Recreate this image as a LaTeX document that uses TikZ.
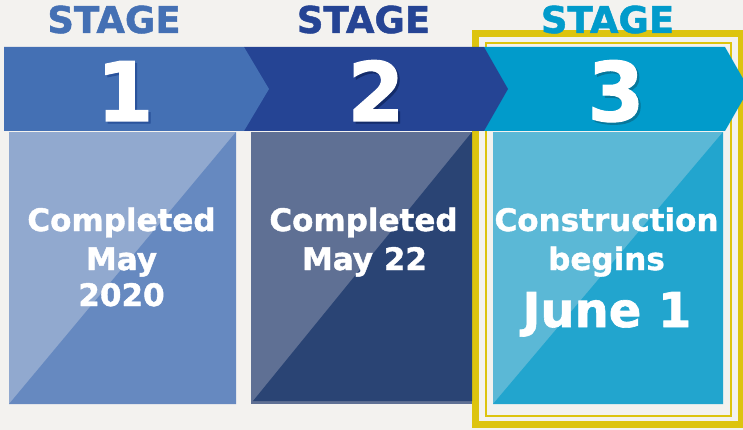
\documentclass[tikz,border=0pt]{standalone}
\usepackage{fontspec}
\setmainfont{DejaVu Sans}[BoldFont={DejaVu Sans Bold},BoldFeatures={FakeBold=1.3}]
\definecolor{bgc}{HTML}{F3F2EF}
\definecolor{aone}{HTML}{4470B4}
\definecolor{atwo}{HTML}{254494}
\definecolor{athree}{HTML}{019BCB}
\definecolor{sone}{HTML}{2A539C}
\definecolor{stwo}{HTML}{142C6A}
\definecolor{sthree}{HTML}{07789C}
\definecolor{bonel}{HTML}{91A9CF}
\definecolor{boned}{HTML}{6689C0}
\definecolor{btwol}{HTML}{5F7094}
\definecolor{btwod}{HTML}{2A4474}
\definecolor{bthreel}{HTML}{5BB8D6}
\definecolor{bthreed}{HTML}{22A5CE}
\definecolor{ylw}{HTML}{DDC40E}
\newcommand{\shadnum}[2]{\rlap{\kern2.2pt\raisebox{-2.2pt}{\textcolor{#1}{#2}}}#2}
\tikzset{
  stagetxt/.style={anchor=base, inner sep=0pt, font=\fontsize{37}{37}\selectfont\bfseries},
  numtxt/.style={anchor=base, inner sep=0pt, text=white, font=\fontsize{82}{82}\selectfont\bfseries},
  boxtxt/.style={anchor=base, inner sep=0pt, text=white, font=\fontsize{31}{31}\selectfont\bfseries},
  bigtxt/.style={anchor=base, inner sep=0pt, text=white, font=\fontsize{48}{48}\selectfont\bfseries}
}
\begin{document}
\begin{tikzpicture}[x=1pt,y=-1pt]
\useasboundingbox (0,0) rectangle (743,430);
\clip (0,0) rectangle (743,430);
\fill[bgc] (0,0) rectangle (743,430);
% yellow frame
\draw[ylw, line width=7.3pt] (475.6,33.6) rectangle (741.5,424.6);
\draw[ylw, line width=2pt] (486.3,42.7) rectangle (730.5,416.2);
% boxes
\fill[bonel] (9,132) rectangle (236,404);
\fill[boned] (9,404) -- (236,132) -- (236,404) -- cycle;
\fill[btwol] (251,132) rectangle (472,404);
\fill[btwod] (253,401) -- (472,132) -- (472,401) -- cycle;
\fill[bthreel] (493,132) rectangle (723,404);
\fill[bthreed] (493,404) -- (723,132) -- (723,404) -- cycle;
% arrows
\fill[athree] (484,47) -- (725,47) -- (749,89) -- (725,131) -- (484,131) -- cycle;
\fill[atwo] (244,47) -- (484,47) -- (508,89) -- (484,131) -- (244,131) -- cycle;
\fill[aone] (4,47) -- (244,47) -- (269,89) -- (244,131) -- (4,131) -- cycle;
% stage labels
\node[stagetxt, text=aone] (s1) at (114,33) {STAGE};
\node[stagetxt, text=atwo] (s2) at (363.5,33) {STAGE};
\node[stagetxt, text=athree] (s3) at (607.5,33) {STAGE};
% numbers
\node[numtxt] (n1) at (125,121) {\shadnum{sone}{1}};
\node[numtxt] (n2) at (376,121) {\shadnum{stwo}{2}};
\node[numtxt] (n3) at (616,121) {\shadnum{sthree}{3}};
% box texts
\node[boxtxt] (t1a) at (121.5,231) {Completed};
\node[boxtxt] (t1b) at (121.5,270) {May};
\node[boxtxt] (t1c) at (121.5,306) {2020};
\node[boxtxt] (t2a) at (363.5,231) {Completed};
\node[boxtxt] (t2b) at (364.5,270) {May 22};
\node[boxtxt] (t3a) at (606.5,231) {Construction};
\node[boxtxt] (t3b) at (606.5,270) {begins};
\node[bigtxt] (t3c) at (607,327) {June 1};
\end{tikzpicture}
\end{document}
